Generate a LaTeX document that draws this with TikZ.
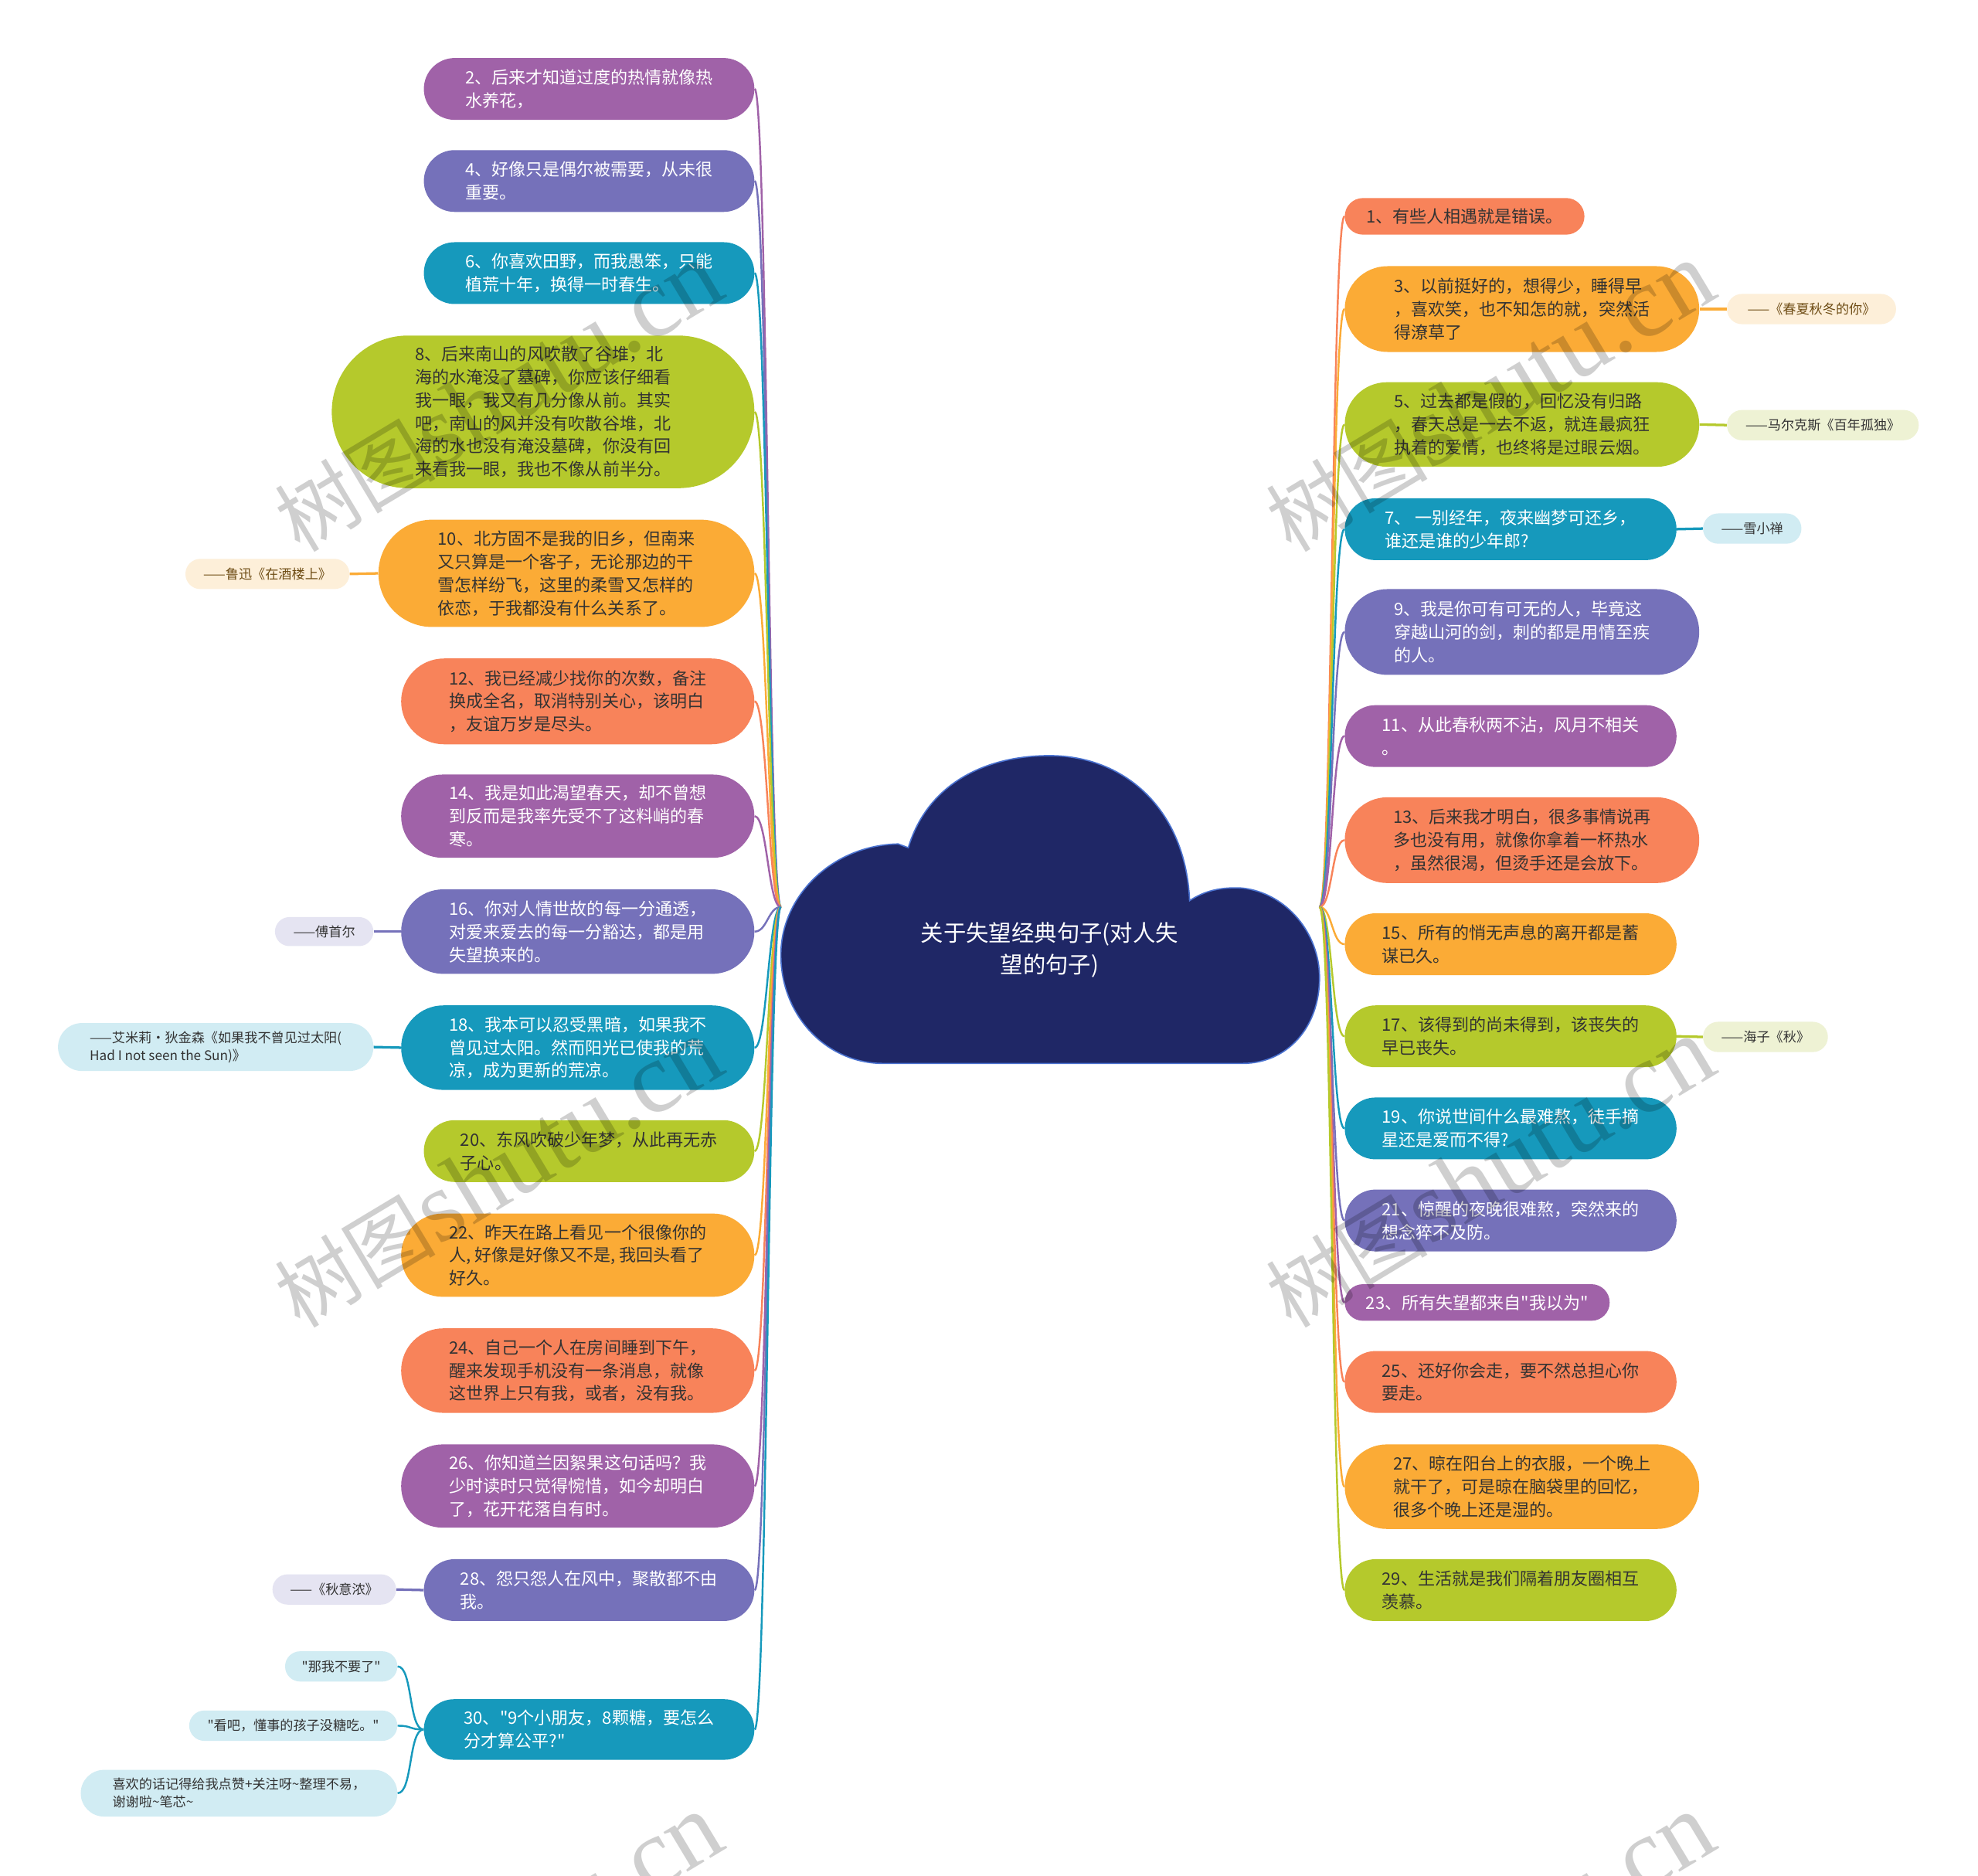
\documentclass[tikz,border=0pt]{standalone}
\usepackage{fontspec}
\newfontfamily\cjk{Noto Sans CJK SC}
\newfontfamily\wmserif{Liberation Serif}
\definecolor{cPur}{HTML}{A062A8}
\definecolor{cBlu}{HTML}{7571BA}
\definecolor{cTea}{HTML}{1699BC}
\definecolor{cGrn}{HTML}{B5C92C}
\definecolor{cOra}{HTML}{FBAB36}
\definecolor{cCor}{HTML}{F8835A}
\definecolor{cTxt}{HTML}{333333}
\definecolor{cloudFill}{HTML}{1F2766}
\definecolor{cloudLine}{HTML}{4A72D0}
\definecolor{lOra}{HTML}{FDEFD9}
\definecolor{lGrn}{HTML}{EEF2D4}
\definecolor{lBlu}{HTML}{D1ECF3}
\definecolor{lLav}{HTML}{E5E4F2}
\definecolor{tOra}{HTML}{6E4C14}
\begin{document}
\begin{tikzpicture}[x=1pt,y=-1pt,
  bx/.style n args={3}{minimum width=#1, minimum height=#2, rounded corners=#2/2-0.05, fill=#3, inner sep=0pt, align=left, font=\cjk\fontsize{13.5}{18.3}\selectfont},
  lb/.style n args={3}{minimum width=#1, minimum height=#2, rounded corners=#2/2-0.05, fill=#3, inner sep=0pt, align=left, font=\cjk\fontsize{10.5}{14}\selectfont},
  wt/.style={text=white},
  dk/.style={text=cTxt},
  br/.style={draw=#1, line width=1.5pt},
  lk/.style={draw=#1, line width=2pt},
  wm/.style={rotate=31, text=black, text opacity=0.19, inner sep=0pt}
]
\useasboundingbox (0,0) rectangle (1568,1487);
\fill[white] (0,0) rectangle (1568,1487);

% cloud
\draw[fill=cloudFill, draw=cloudLine, line width=1pt]
  (720,672) .. controls (735,622) and (780,599) .. (832,599)
  .. controls (892,599) and (940,642) .. (943,714)
  .. controls (955,706) and (968,703) .. (985,704)
  .. controls (1020,708) and (1046,740) .. (1046,775)
  .. controls (1046,815) and (1020,843) .. (985,843)
  -- (700,843)
  .. controls (655,843) and (619,805) .. (619,757)
  .. controls (619,710) and (660,670) .. (712,669) -- cycle;
\node[wt, align=center, font=\cjk\fontsize{18}{25}\selectfont] (title) at (832,753) {关于失望经典句子(对人失\\望的句子)};
\coordinate (rootL) at (619,719);
\coordinate (rootR) at (1046,719);

% left nodes
\node[bx={262}{49}{cPur}, wt] (n2) at (467,70.5) {2、后来才知道过度的热情就像热\\水养花，};
\node[bx={262}{49}{cBlu}, wt] (n4) at (467,143.5) {4、好像只是偶尔被需要，从未很\\重要。};
\node[bx={262}{49}{cTea}, wt] (n6) at (467,216.5) {6、你喜欢田野，而我愚笨，只能\\植荒十年，换得一时春生。};
\node[bx={335}{121}{cGrn}, dk] (n8) at (430.5,326.5) {8、后来南山的风吹散了谷堆，北\\海的水淹没了墓碑，你应该仔细看\\我一眼，我又有几分像从前。其实\\吧，南山的风并没有吹散谷堆，北\\海的水也没有淹没墓碑，你没有回\\来看我一眼，我也不像从前半分。};
\node[bx={298}{85}{cOra}, dk] (n10) at (449,454.5) {10、北方固不是我的旧乡，但南来\\又只算是一个客子，无论那边的干\\雪怎样纷飞，这里的柔雪又怎样的\\依恋，于我都没有什么关系了。};
\node[bx={280}{68}{cCor}, dk] (n12) at (458,556) {12、我已经减少找你的次数，备注\\换成全名，取消特别关心，该明白\\，友谊万岁是尽头。};
\node[bx={280}{66}{cPur}, wt] (n14) at (458,647) {14、我是如此渴望春天，却不曾想\\到反而是我率先受不了这料峭的春\\寒。};
\node[bx={280}{67}{cBlu}, wt] (n16) at (458,738.5) {16、你对人情世故的每一分通透，\\对爱来爱去的每一分豁达，都是用\\失望换来的。};
\node[bx={280}{67}{cTea}, wt] (n18) at (458,830.5) {18、我本可以忍受黑暗，如果我不\\曾见过太阳。然而阳光已使我的荒\\凉，成为更新的荒凉。};
\node[bx={262}{49}{cGrn}, dk] (n20) at (467,912.5) {20、东风吹破少年梦，从此再无赤\\子心。};
\node[bx={280}{66}{cOra}, dk] (n22) at (458,995) {22、昨天在路上看见一个很像你的\\人, 好像是好像又不是, 我回头看了\\好久。};
\node[bx={280}{67}{cCor}, dk] (n24) at (458,1086.5) {24、自己一个人在房间睡到下午，\\醒来发现手机没有一条消息，就像\\这世界上只有我，或者，没有我。};
\node[bx={280}{66}{cPur}, wt] (n26) at (458,1178) {26、你知道兰因絮果这句话吗？我\\少时读时只觉得惋惜，如今却明白\\了，花开花落自有时。};
\node[bx={262}{49}{cBlu}, wt] (n28) at (467,1260.5) {28、怨只怨人在风中，聚散都不由\\我。};
\node[bx={262}{48}{cTea}, wt] (n30) at (467,1371) {30、"9个小朋友，8颗糖，要怎么\\分才算公平?"};

% left labels
\node[lb={130}{24}{lOra}, text=tOra] (l10) at (212,455) {——鲁迅《在酒楼上》};
\node[lb={78}{23}{lLav}, dk] (l16) at (257,738.5) {——傅首尔};
\node[lb={250}{38}{lBlu}, dk] (l18) at (171,830) {——艾米莉·狄金森《如果我不曾见过太阳(\\Had I not seen the Sun)》};
\node[lb={98}{24}{lLav}, dk] (l28) at (265,1260) {——《秋意浓》};
\node[lb={89}{24}{lBlu}, dk] (l30a) at (270.5,1321) {"那我不要了"};
\node[lb={165}{24}{lBlu}, dk] (l30b) at (232.5,1368) {"看吧，懂事的孩子没糖吃。"};
\node[lb={251}{37}{lBlu}, dk] (l30c) at (189.5,1421.5) {喜欢的话记得给我点赞+关注呀\textasciitilde 整理不易，\\谢谢啦\textasciitilde 笔芯\textasciitilde};

% right nodes
\node[bx={190}{29}{cCor}, dk] (r1) at (1161,171.5) {1、有些人相遇就是错误。};
\node[bx={281}{68}{cOra}, dk] (r3) at (1206.5,245) {3、以前挺好的，想得少，睡得早\\，喜欢笑，也不知怎的就，突然活\\得潦草了};
\node[bx={281}{67}{cGrn}, dk] (r5) at (1206.5,336.5) {5、过去都是假的，回忆没有归路\\，春天总是一去不返，就连最疯狂\\执着的爱情，也终将是过眼云烟。};
\node[bx={263}{49}{cTea}, wt] (r7) at (1197.5,419.5) {7、\ 一别经年，夜来幽梦可还乡，\\谁还是谁的少年郎?};
\node[bx={281}{68}{cBlu}, wt] (r9) at (1206.5,501) {9、我是你可有可无的人，毕竟这\\穿越山河的剑，刺的都是用情至疾\\的人。};
\node[bx={263}{49}{cPur}, wt] (r11) at (1197.5,583.5) {11、从此春秋两不沾，风月不相关\\。};
\node[bx={281}{68}{cCor}, dk] (r13) at (1206.5,666) {13、后来我才明白，很多事情说再\\多也没有用，就像你拿着一杯热水\\，虽然很渴，但烫手还是会放下。};
\node[bx={263}{49}{cOra}, dk] (r15) at (1197.5,748.5) {15、所有的悄无声息的离开都是蓄\\谋已久。};
\node[bx={263}{49}{cGrn}, dk] (r17) at (1197.5,821.5) {17、该得到的尚未得到，该丧失的\\早已丧失。};
\node[bx={263}{49}{cTea}, wt] (r19) at (1197.5,894.5) {19、你说世间什么最难熬，徒手摘\\星还是爱而不得?};
\node[bx={263}{49}{cBlu}, wt] (r21) at (1197.5,967.5) {21、惊醒的夜晚很难熬，突然来的\\想念猝不及防。};
\node[bx={210}{29}{cPur}, wt] (r23) at (1171,1032.5) {23、所有失望都来自"我以为"};
\node[bx={263}{49}{cCor}, dk] (r25) at (1197.5,1095.5) {25、还好你会走，要不然总担心你\\要走。};
\node[bx={281}{67}{cOra}, dk] (r27) at (1206.5,1178.5) {27、晾在阳台上的衣服，一个晚上\\就干了，可是晾在脑袋里的回忆，\\很多个晚上还是湿的。};
\node[bx={263}{49}{cGrn}, dk] (r29) at (1197.5,1260.5) {29、生活就是我们隔着朋友圈相互\\羡慕。};

% right labels
\node[lb={134}{24}{lOra}, text=tOra] (lr3) at (1436,245) {——《春夏秋冬的你》};
\node[lb={152}{24}{lGrn}, dk] (lr5) at (1445,337) {——马尔克斯《百年孤独》};
\node[lb={78}{24}{lBlu}, dk] (lr7) at (1389,419) {——雪小禅};
\node[lb={99}{24}{lGrn}, dk] (lr17) at (1399.5,822) {——海子《秋》};

% branches
\foreach \n/\c in {n2/cPur,n4/cBlu,n6/cTea,n8/cGrn,n10/cOra,n12/cCor,n14/cPur,n16/cBlu,n18/cTea,n20/cGrn,n22/cOra,n24/cCor,n26/cPur,n28/cBlu,n30/cTea}
  \draw[br=\c] (rootL) .. controls +(-10,0) and +(10,0) .. (\n.east);
\foreach \n/\c in {r1/cCor,r3/cOra,r5/cGrn,r7/cTea,r9/cBlu,r11/cPur,r13/cCor,r15/cOra,r17/cGrn,r19/cTea,r21/cBlu,r23/cPur,r25/cCor,r27/cOra,r29/cGrn}
  \draw[br=\c] (rootR) .. controls +(10,0) and +(-10,0) .. (\n.west);

% label links
\draw[lk=cOra] (l10.east) -- (n10.west);
\draw[lk=cBlu] (l16.east) -- (n16.west);
\draw[lk=cTea] (l18.east) -- (n18.west);
\draw[lk=cBlu] (l28.east) -- (n28.west);
\draw[lk=cOra] (r3.east) -- (lr3.west);
\draw[lk=cGrn] (r5.east) -- (lr5.west);
\draw[lk=cTea] (r7.east) -- (lr7.west);
\draw[lk=cGrn] (r17.east) -- (lr17.west);
\foreach \l in {l30a,l30b,l30c}
  \draw[br=cTea] (n30.west) .. controls +(-12,0) and +(12,0) .. (\l.east);

% watermarks
\foreach \i/\p in {1/{(395,315)},2/{(1181,315)},3/{(395,930)},4/{(1181,930)},5/{(395,1545)},6/{(1181,1545)}}
  \node[wm] (wm\i) at \p {{\cjk\fontsize{64}{64}\selectfont 树图}{\wmserif\fontsize{80}{80}\selectfont shutu.cn}};
\end{tikzpicture}
\end{document}
